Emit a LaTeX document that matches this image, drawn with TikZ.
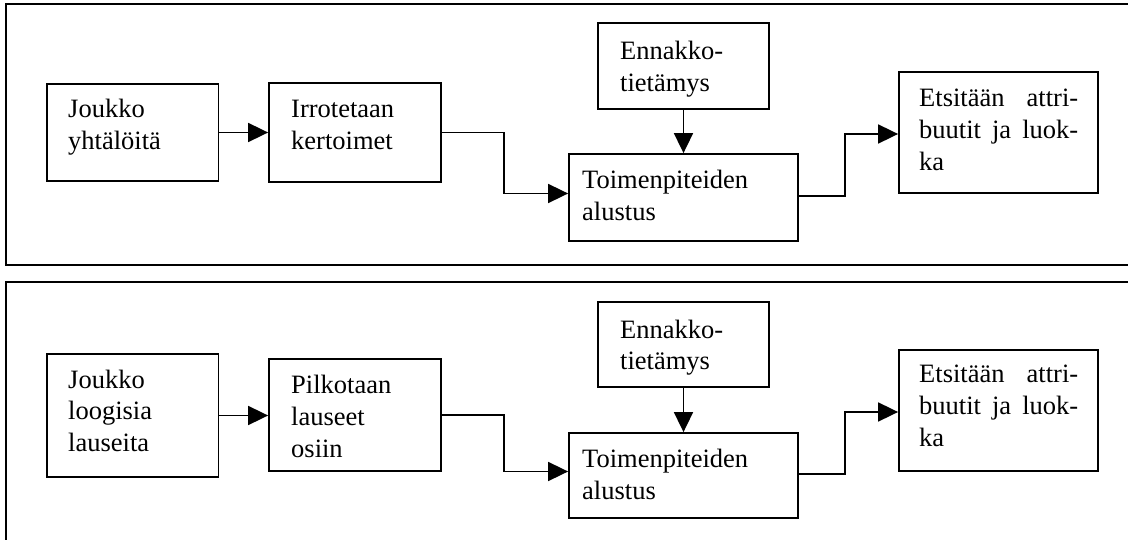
\documentclass[tikz,border=0pt]{standalone}
\usepackage{fontspec}
\setmainfont{Liberation Serif}
\usetikzlibrary{arrows.meta,fit,calc}
\begin{document}
\begin{tikzpicture}[x=1pt,y=-1pt,
  box/.style={draw, line width=1.8pt, inner sep=0pt},
  lbl/.style={anchor=base west, inner sep=0pt, font=\fontsize{26.5}{32}\selectfont},
  flow/.style={line width=1.8pt, -{Triangle[length=20pt,width=19pt]}},
  panel/.style={line width=2pt}]
\useasboundingbox (0,0) rectangle (1128,540);

% ---------- upper panel: equations ----------
\draw[panel] (1128,4) -- (5.5,4) -- (5.5,265) -- (1128,265);

\node[box, fit={(47,84)(218.5,181)}] (A) {};
\node[box, fit={(269,83)(441,182)}] (B) {};
\node[box, fit={(569,154)(798,241)}] (C) {};
\node[box, fit={(598,23)(769,109)}] (D) {};
\node[box, fit={(899,72)(1098,193)}] (E) {};

\node[lbl] (At) at (68,118) {\vtop{\hbox{Joukko}\hbox{yhtälöitä}}};
\node[lbl] (Bt) at (291,118) {\vtop{\hbox{Irrotetaan}\hbox{kertoimet}}};
\node[lbl] (Ct) at (582,188.5) {\vtop{\hbox{Toimenpiteiden}\hbox{alustus}}};
\node[lbl] (Dt) at (620,59.5) {\vtop{\hbox{Ennakko-}\hbox{tietämys}}};
\node[lbl] (Et) at (919,107) {\vtop{\hbox to 159pt{Etsitään\hfill attri-}\hbox to 159pt{buutit\hfill ja\hfill luok-}\hbox{ka}}};

\draw[flow] (A.east) -- (A.east -| B.west);
\draw[flow] (B.east) -- ++(62,0) |- ([yshift=4pt]C.west);
\draw[flow] (D.south) -- (C.north);
\draw[flow] ([yshift=1.5pt]C.east) -- ++(46,0) |- ([yshift=-1.5pt]E.west);

% ---------- lower panel: logical sentences ----------
\draw[panel] (1128,282) -- (5.5,282) -- (5.5,540);

\node[box, fit={(47,354)(218.5,477)}] (A2) {};
\node[box, fit={(269,359)(441,471)}] (B2) {};
\node[box, fit={(569,433)(798,518)}] (C2) {};
\node[box, fit={(598,302)(769,387)}] (D2) {};
\node[box, fit={(899,350)(1098,471)}] (E2) {};

\node[lbl] (A2t) at (68,388) {\vtop{\hbox{Joukko}\hbox{loogisia}\hbox{lauseita}}};
\node[lbl] (B2t) at (291,393.5) {\vtop{\hbox{Pilkotaan}\hbox{lauseet}\hbox{osiin}}};
\node[lbl] (C2t) at (582,467) {\vtop{\hbox{Toimenpiteiden}\hbox{alustus}}};
\node[lbl] (D2t) at (620,338) {\vtop{\hbox{Ennakko-}\hbox{tietämys}}};
\node[lbl] (E2t) at (919,382) {\vtop{\hbox to 159pt{Etsitään\hfill attri-}\hbox to 159pt{buutit\hfill ja\hfill luok-}\hbox{ka}}};

\draw[flow] (A2.east) -- (A2.east -| B2.west);
\draw[flow] (B2.east) -- ++(62,0) |- ([yshift=4pt]C2.west);
\draw[flow] (D2.south) -- (C2.north);
\draw[flow] ([yshift=1.5pt]C2.east) -- ++(46,0) |- ([yshift=-1.5pt]E2.west);
\end{tikzpicture}
\end{document}
